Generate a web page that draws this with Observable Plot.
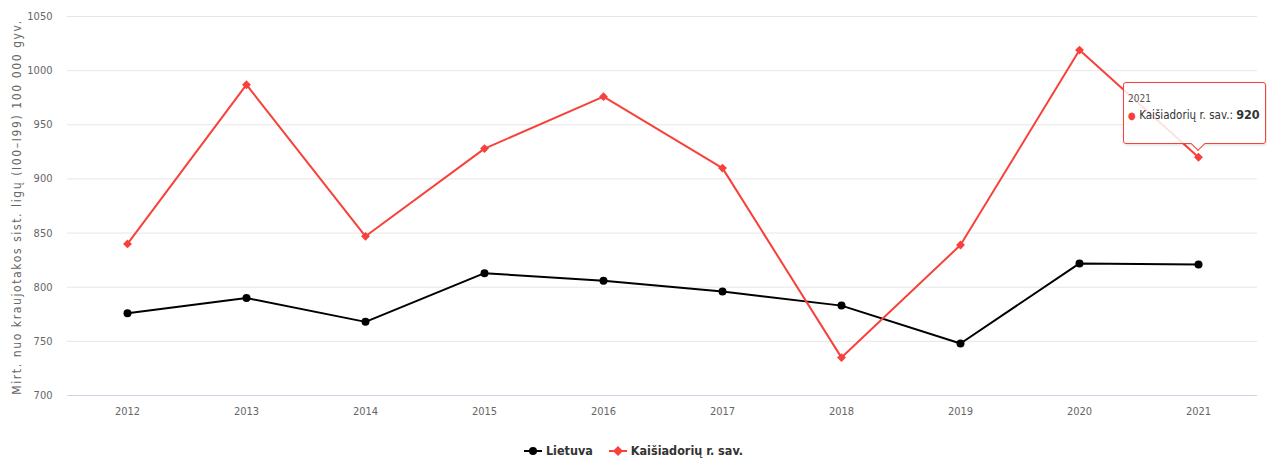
<!DOCTYPE html>
<html><head><meta charset="utf-8">
<script src="https://cdn.jsdelivr.net/npm/d3@7"></script>
<script src="https://cdn.jsdelivr.net/npm/@observablehq/plot@0.6"></script>
<style>
body{margin:0;background:#fff;font-family:"DejaVu Sans Condensed","DejaVu Sans",sans-serif;font-stretch:condensed;}
#wrap{position:relative;width:1267px;height:461px;}
#wrap svg text{font-stretch:condensed;}
#legend{position:absolute;left:0;top:443px;width:1267px;text-align:center;font-size:12.5px;color:#333;font-weight:bold;font-stretch:condensed;}
#legend span{display:inline-flex;align-items:center;margin:0 8px;}
#tip{position:absolute;background:rgba(255,255,255,0.85);border:1px solid #f7413a;border-radius:3px;padding:4px 4px;font-size:11.5px;color:#333;box-sizing:border-box;width:143px;height:62px;box-shadow:1px 1px 3px rgba(0,0,0,0.15);white-space:nowrap;font-stretch:condensed;overflow:hidden;}
</style></head>
<body><div id="wrap"></div>
<script>
const years = ["2012","2013","2014","2015","2016","2017","2018","2019","2020","2021"];
const lietuva = [776, 790, 768, 813, 806, 796, 783, 748, 822, 821];
const kaisiadoriu = [840, 987, 847, 928, 976, 910, 735, 839, 1019, 920];
const seriesNames = ["Lietuva", "Kaišiadorių r. sav."];
const seriesColors = ["#000000", "#f7413a"];
const yTicks = [700, 750, 800, 850, 900, 950, 1000, 1050];
const yLabel = "Mirt. nuo kraujotakos sist. ligų (I00–I99) 100 000 gyv.";

const rows = [];
years.forEach((y,i)=>{
  rows.push({year:y, value:lietuva[i], s:seriesNames[0]});
  rows.push({year:y, value:kaisiadoriu[i], s:seriesNames[1]});
});
const L = rows.filter(d=>d.s===seriesNames[0]);
const K = rows.filter(d=>d.s===seriesNames[1]);

const chart = Plot.plot({
  width:1267, height:430,
  marginLeft:67, marginRight:10, marginTop:16, marginBottom:35,
  style:{fontFamily:'"DejaVu Sans Condensed","DejaVu Sans",sans-serif', fontSize:"11px", color:"#666", background:"#fff"},
  x:{type:"point", domain:years, padding:0.5, label:null, tickSize:0, tickPadding:12},
  y:{domain:[700,1050], ticks:yTicks, label:null, tickSize:0, tickPadding:15, tickFormat:d3.format("d")},
  marks:[
    Plot.gridY(yTicks, {stroke:"#e6e6e6", strokeOpacity:1}),
    Plot.ruleY([700], {stroke:"#ccd6eb"}),
    Plot.axisY({ticks:yTicks, tickSize:0, tickPadding:15, label:null, tickFormat:d3.format("d")}),
    Plot.axisX({tickSize:0, tickPadding:12, label:null}),
    Plot.line(L, {x:"year", y:"value", stroke:seriesColors[0], strokeWidth:2}),
    Plot.line(K, {x:"year", y:"value", stroke:seriesColors[1], strokeWidth:2}),
    Plot.dot(L, {x:"year", y:"value", fill:seriesColors[0], r:4}),
    Plot.dot(K, {x:"year", y:"value", fill:seriesColors[1], r:4, symbol:"diamond2"})
  ]
});
const wrap = document.getElementById("wrap");
wrap.appendChild(chart);

// y-axis title
const yl = document.createElement("div");
yl.textContent = yLabel;
Object.assign(yl.style,{position:"absolute",left:"17px",top:"207px",transform:"translate(-50%,-50%) rotate(-90deg)",whiteSpace:"nowrap",fontSize:"12px",color:"#666",fontFamily:'"DejaVu Sans",sans-serif',letterSpacing:"1.6px"});
wrap.appendChild(yl);

// tooltip anchored to data point
const xs = chart.scale("x"), ys = chart.scale("y");
const px = xs.apply(years[9]), py = ys.apply(kaisiadoriu[9]);
const tip = document.createElement("div");
tip.id = "tip";
tip.style.left = (px - 75) + "px";
tip.style.top = (py - 75) + "px";
tip.innerHTML = `<div style="font-size:10px;color:#555;margin-top:6px">${years[9]}</div>
<div style="margin-top:3px"><span style="color:${seriesColors[1]};font-size:10px">●</span> ${seriesNames[1]}: <b style="font-size:12.5px">${kaisiadoriu[9]}</b></div>`;
wrap.appendChild(tip);
const arrow = document.createElement("div");
Object.assign(arrow.style,{position:"absolute",left:(px-5)+"px",top:(py-18)+"px",width:"9px",height:"9px",background:"#fff",borderRight:"1px solid "+seriesColors[1],borderBottom:"1px solid "+seriesColors[1],transform:"rotate(45deg)"});
wrap.appendChild(arrow);

// legend
const lg = document.createElement("div");
lg.id = "legend";
lg.innerHTML = seriesNames.map((n,i)=>`<span><svg width="18" height="12"><line x1="0" x2="18" y1="6" y2="6" stroke="${seriesColors[i]}" stroke-width="2"/>${i===0?`<circle cx="9" cy="6" r="4" fill="${seriesColors[i]}"/>`:`<path d="M9 1 L14 6 L9 11 L4 6Z" fill="${seriesColors[i]}"/>`}</svg>&nbsp;${n}</span>`).join("");
wrap.appendChild(lg);
</script>
</body></html>
